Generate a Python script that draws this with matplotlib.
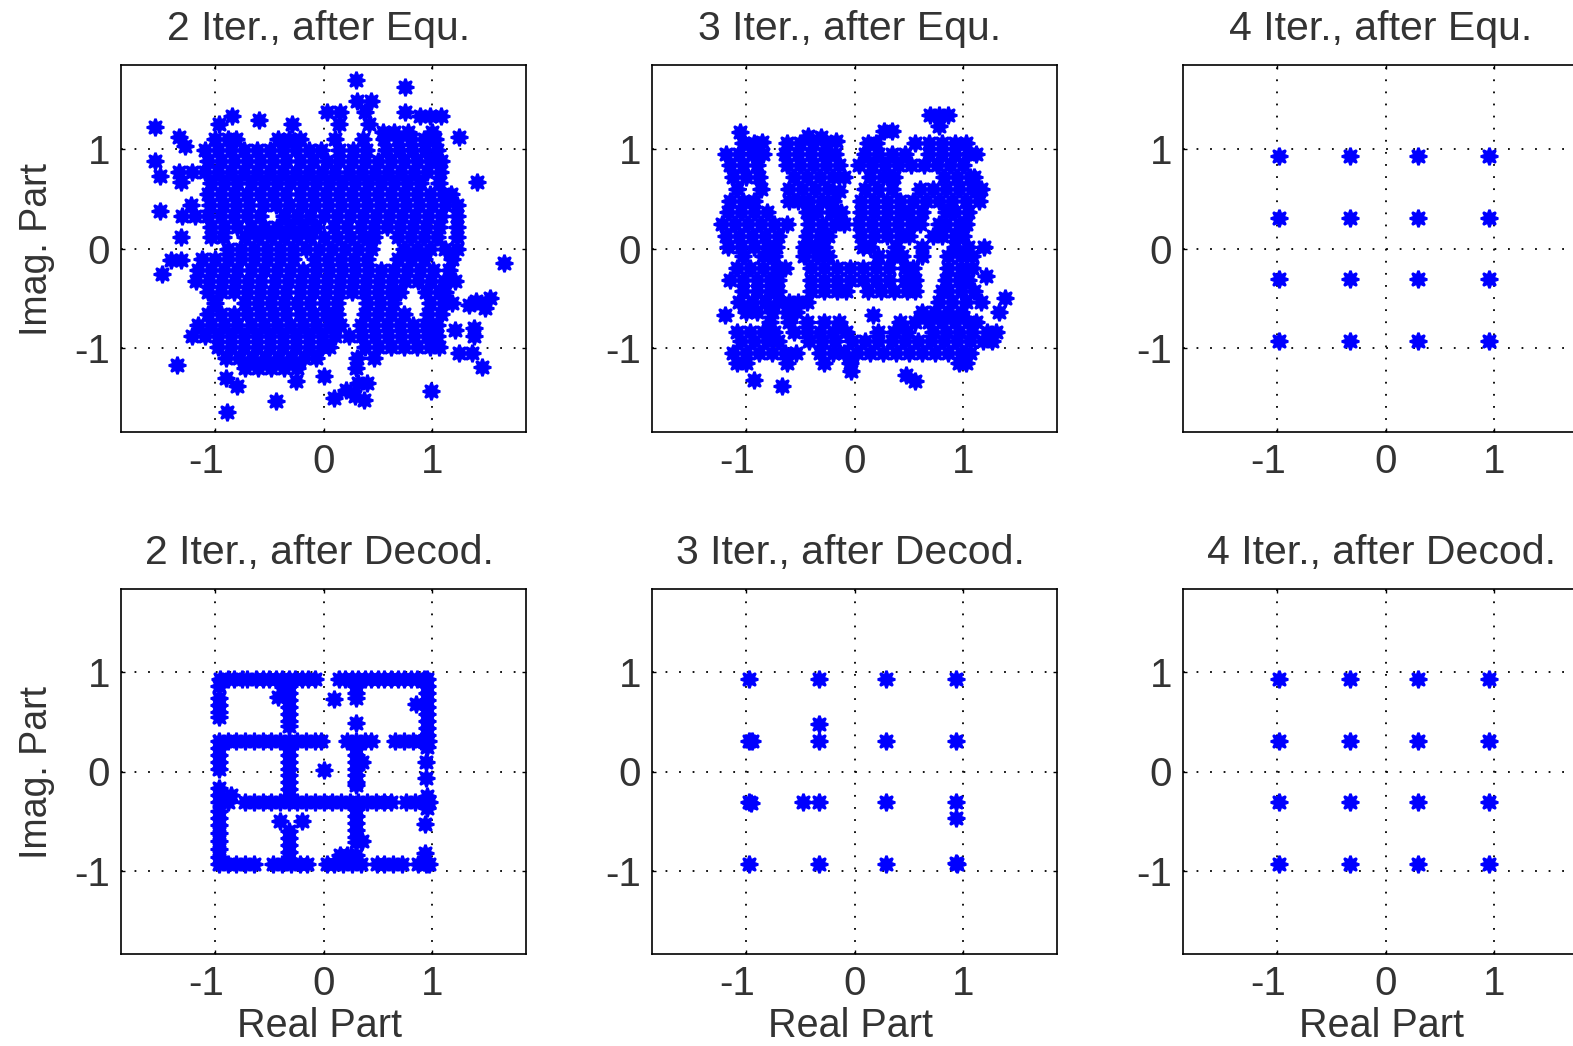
"""Scatter plots of equalized and decoded symbols over the turbo iterations."""

import matplotlib

matplotlib.use("Agg")

import matplotlib.pyplot as plt
from matplotlib.transforms import ScaledTranslation

plt.rcParams["font.family"] = ["Liberation Sans", "DejaVu Sans"]

W, H = 1573, 1046
LEFTS = [121, 652, 1183]
TOPS = [65, 589]
AX_W = 405
AX_HS = [367, 365]
TEXT_COLOR = "#333333"

TITLES = [
    "2 Iter., after Equ.", "3 Iter., after Equ.", "4 Iter., after Equ.",
    "2 Iter., after Decod.", "3 Iter., after Decod.", "4 Iter., after Decod.",
]
TICKS = [-1, 0, 1]
TICK_LABELS = ["-1", "0", "1"]

# every row is (imag, [real values])
EQU_2 = [
    (1.69, [0.30]), (1.62, [0.75]),
    (1.48, [0.31, 0.44]), (1.37, [0.03, 0.15, 0.38, 0.75]),
    (1.33, [-0.84, 0.89, 0.98, 1.08]), (1.29, [-0.59]), (1.25, [-0.96, -0.29, 0.14, 0.42]),
    (1.22, [-1.55]), (1.17, [0.55, 0.65, 0.78, 1.00]), (1.12, [-1.33, 1.24]), (1.03, [-1.27]), (0.88, [-1.55]),
    (1.10, [-1.00, -0.88, -0.80, -0.42, -0.32, -0.22, 0.11, 0.36, 0.56, 0.68, 0.80, 0.92, 1.02]),
    (0.99, [-1.09, -0.97, -0.85, -0.73, -0.61, -0.49, -0.37, -0.25, -0.13, -0.02, 0.14, 0.27, 0.39, 0.57, 0.69, 0.81, 0.93, 1.04]),
    (0.88, [-1.06, -0.94, -0.82, -0.70, -0.58, -0.46, -0.34, -0.22, -0.10, 0.03, 0.14, 0.26, 0.38, 0.50, 0.62, 0.74, 0.86, 0.98, 1.08]),
    (0.77, [-1.33, -1.21, -1.09, -0.97, -0.85, -0.73, -0.61, -0.49, -0.37, -0.25, -0.13, -0.01, 0.11, 0.23, 0.35, 0.47, 0.59, 0.71, 0.83, 0.95, 1.07]),
    (0.73, [-1.50]), (0.67, [-1.31, 1.41]),
    (0.66, [-1.03, -0.91, -0.79, -0.67, -0.55, -0.43, -0.31, -0.19, -0.07, 0.05, 0.17, 0.29, 0.41, 0.53, 0.65, 0.77, 0.89, 1.06]),
    (0.55, [-1.06, -0.94, -0.82, -0.70, -0.58, -0.46, -0.34, -0.22, -0.10, 0.02, 0.14, 0.26, 0.38, 0.50, 0.62, 0.74, 0.86, 0.98, 1.10, 1.17]),
    (0.44, [-1.22, -1.04, -0.92, -0.80, -0.68, -0.56, -0.44, -0.32, -0.20, -0.08, 0.04, 0.16, 0.28, 0.40, 0.52, 0.64, 0.76, 0.88, 1.00, 1.12, 1.23]),
    (0.38, [-1.50]),
    (0.33, [-1.30, -1.18, -1.06, -0.94, -0.82, -0.70, -0.58, -0.36, -0.24, -0.12, 0.00, 0.12, 0.24, 0.36, 0.48, 0.60, 0.72, 0.84, 0.96, 1.08, 1.23]),
    (0.22, [-1.03, -0.91, -0.79, -0.67, -0.55, -0.43, -0.31, -0.19, -0.07, 0.10, 0.22, 0.34, 0.46, 0.58, 0.70, 0.82, 0.94, 1.06, 1.23]),
    (0.12, [-1.31, -1.03, -0.92, -0.72, -0.60, -0.48, -0.36, -0.24, -0.12, 0.00, 0.12, 0.24, 0.36, 0.46, 0.68, 0.80, 0.92, 1.04, 1.23]),
    (0.00, [-0.88, -0.76, -0.64, -0.52, -0.40, -0.28, -0.16, -0.04, 0.08, 0.20, 0.32, 0.44, 0.74, 0.86, 0.98, 1.12, 1.23]),
    (-0.11, [-1.12, -1.00, -0.88, -0.76, -0.64, -0.52, -0.40, -0.28, -0.08, 0.04, 0.16, 0.28, 0.40, 0.68, 0.80, 0.92, 1.18]),
    (-0.12, [-1.40, -1.31]), (-0.15, [1.66]), (-0.26, [-1.48]),
    (-0.22, [-1.15, -1.03, -0.91, -0.79, -0.67, -0.55, -0.43, -0.31, -0.19, -0.07, 0.05, 0.17, 0.29, 0.41, 0.53, 0.65, 0.77, 0.89, 1.01, 1.15]),
    (-0.33, [-1.17, -1.05, -0.93, -0.81, -0.69, -0.57, -0.45, -0.33, -0.21, -0.09, 0.03, 0.15, 0.27, 0.39, 0.51, 0.63, 0.75, 0.87, 0.99, 1.11, 1.21]),
    (-0.44, [-1.06, -0.94, -0.82, -0.70, -0.58, -0.46, -0.34, -0.22, -0.10, 0.02, 0.14, 0.26, 0.38, 0.50, 0.62, 0.70, 0.94, 1.06, 1.12]),
    (-0.50, [1.53]), (-0.53, [1.40]), (-0.57, [1.34]), (-0.60, [1.48]),
    (-0.55, [-1.00, -0.72, -0.60, -0.48, -0.36, -0.24, -0.12, 0.00, 0.12, 0.40, 0.52, 0.64, 0.98, 1.10, 1.18]),
    (-0.66, [-1.06, -0.94, -0.82, -0.70, -0.58, -0.46, -0.34, -0.22, -0.10, 0.02, 0.12, 0.38, 0.50, 0.62, 0.74, 0.96, 1.08]),
    (-0.77, [-1.15, -1.03, -0.91, -0.79, -0.67, -0.55, -0.43, -0.31, -0.19, -0.07, 0.05, 0.15, 0.34, 0.46, 0.58, 0.70, 0.82, 0.94, 1.04]),
    (-0.80, [1.38]), (-0.82, [1.21]),
    (-0.88, [-1.21, -1.09, -0.97, -0.85, -0.73, -0.61, -0.49, -0.37, -0.25, -0.13, -0.01, 0.11, 0.23, 0.35, 0.47, 0.59, 0.71, 0.83, 0.95, 1.04, 1.38]),
    (-0.99, [-0.97, -0.85, -0.73, -0.61, -0.49, -0.37, -0.25, -0.13, -0.01, 0.05, 0.38, 0.50, 0.62, 0.74, 0.86, 0.98, 1.06]),
    (-1.05, [1.24, 1.36]),
    (-1.10, [-0.90, -0.78, -0.66, -0.54, -0.42, -0.30, -0.18, -0.07, 0.31, 0.46]),
    (-1.17, [-1.35]), (-1.19, [1.46]),
    (-1.20, [-0.72, -0.60, -0.48, -0.36, -0.24, 0.30]),
    (-1.28, [0.00]), (-1.30, [-0.90]), (-1.33, [-0.25]), (-1.35, [0.32, 0.40]),
    (-1.38, [-0.79]), (-1.42, [0.21]), (-1.43, [0.99]), (-1.48, [0.29]),
    (-1.50, [0.10]), (-1.52, [0.37]), (-1.53, [-0.44]), (-1.64, [-0.89]),
]

EQU_3 = [
    (1.34, [0.69, 0.78, 0.86]), (1.23, [0.78]), (1.18, [0.27, 0.34]),
    (1.17, [-1.05]), (1.13, [-0.43]), (1.12, [-0.31]), (1.08, [-0.17]), (1.07, [-0.85]),
    (1.06, [-1.02, -0.92, -0.62, -0.50, -0.38, -0.26, 0.12, 0.20, 0.56, 0.68, 0.80, 0.92, 1.02]),
    (0.95, [-1.18, -1.06, -0.94, -0.84, -0.64, -0.52, -0.40, -0.28, -0.18, 0.10, 0.22, 0.34, 0.46, 0.68, 0.80, 0.92, 1.04, 1.12]),
    (0.84, [-1.14, -1.02, -0.90, -0.62, -0.50, -0.38, -0.26, -0.14, 0.04, 0.16, 0.28, 0.40, 0.52, 0.64, 0.76, 0.88, 1.00]),
    (0.72, [-1.12, -1.00, -0.88, -0.56, -0.44, -0.32, -0.20, -0.10, 0.14, 0.26, 0.36, 0.82, 0.94, 1.06, 1.10]),
    (0.60, [-1.08, -0.86, -0.60, -0.48, -0.36, -0.24, 0.10, 0.22, 0.34, 0.60, 0.72, 0.84, 0.96, 1.08, 1.16]),
    (0.58, [-0.14]),
    (0.48, [-1.14, -1.02, -0.92, -0.60, -0.52, -0.42, -0.30, -0.20, 0.06, 0.18, 0.30, 0.42, 0.54, 0.66, 0.78, 0.90, 1.02, 1.14]),
    (0.37, [-1.16, -1.04, -0.92, -0.80, -0.44, -0.34, -0.22, -0.12, 0.06, 0.18, 0.30, 0.42, 0.50, 0.62, 0.84, 0.92, 1.04]),
    (0.25, [-1.22, -1.10, -0.98, -0.86, -0.74, -0.62, -0.42, -0.30, -0.18, -0.10, 0.04, 0.16, 0.28, 0.40, 0.52, 0.60, 0.78, 0.84, 0.96, 1.02]),
    (0.13, [-1.18, -1.06, -0.94, -0.82, -0.70, -0.44, -0.32, -0.24, 0.06, 0.18, 0.30, 0.42, 0.50, 0.72, 0.80, 0.92, 1.00]),
    (0.02, [-1.16, -1.04, -0.92, -0.80, -0.72, -0.46, -0.36, -0.28, 0.08, 0.14, 0.38, 0.62, 0.92, 1.04, 1.19]),
    (-0.08, [-1.02, -0.84, -0.74, -0.46, -0.34, -0.24, 0.22, 0.34, 0.44, 0.62, 0.86, 0.98, 1.08]),
    (-0.20, [-1.08, -0.96, -0.84, -0.72, -0.64, -0.40, -0.28, -0.16, -0.04, 0.08, 0.20, 0.32, 0.46, 0.54, 0.86, 0.98, 1.08]),
    (-0.28, [1.21]),
    (-0.32, [-1.14, -1.02, -0.90, -0.78, -0.70, -0.40, -0.28, -0.16, -0.04, 0.08, 0.20, 0.32, 0.46, 0.56, 0.84, 0.96, 1.04]),
    (-0.43, [-1.02, -0.90, -0.78, -0.70, -0.40, -0.28, -0.16, -0.08, 0.12, 0.24, 0.36, 0.48, 0.56, 0.80, 0.86, 0.98, 1.10]),
    (-0.50, [1.38]),
    (-0.54, [-1.06, -0.94, -0.82, -0.70, -0.60, -0.52, -0.44, 0.78, 0.90, 1.02, 1.16]),
    (-0.64, [-1.00, -0.90, -0.76, -0.62, -0.54, 0.62, 0.74, 0.86, 0.98, 1.33]),
    (-0.67, [-1.19, 0.17]),
    (-0.74, [-0.78, -0.60, -0.44, -0.28, -0.14, 0.42, 0.56, 0.68, 0.80, 0.92, 1.04, 1.12]),
    (-0.84, [-1.08, -0.96, -0.84, -0.74, -0.56, -0.44, -0.32, -0.20, -0.08, 0.22, 0.36, 0.48, 0.72, 0.84, 0.96, 1.08, 1.22, 1.30]),
    (-0.93, [-1.04, -0.92, -0.80, -0.70, -0.42, -0.30, -0.18, -0.02, 0.10, 0.22, 0.34, 0.46, 0.58, 0.70, 0.82, 0.94, 1.06, 1.18, 1.26]),
    (-1.05, [-1.12, -1.00, -0.88, -0.76, -0.64, -0.54, -0.32, -0.20, -0.10, 0.02, 0.14, 0.26, 0.38, 0.50, 0.62, 0.74, 0.86, 0.98, 1.06]),
    (-1.15, [-1.08, -1.00, -0.62, -0.28, -0.04, 0.96, 1.02]),
    (-1.23, [-0.03]), (-1.27, [0.47]), (-1.32, [-0.92]), (-1.33, [0.56]), (-1.38, [-0.67]),
]

DEC_2_ROWS = [
    (0.93, [-0.95, -0.88, -0.82, -0.75, -0.70, -0.62, -0.56, -0.50, -0.44, -0.38, -0.32, -0.26, -0.20, -0.14, -0.08,
            0.14, 0.20, 0.26, 0.32, 0.38, 0.44, 0.50, 0.56, 0.62, 0.68, 0.74, 0.80, 0.86, 0.92, 0.95]),
    (0.31, [-0.96, -0.88, -0.80, -0.72, -0.64, -0.56, -0.48, -0.40, -0.32, -0.24, -0.16, -0.08, -0.02,
            0.22, 0.30, 0.38, 0.44, 0.66, 0.74, 0.82, 0.90, 0.96]),
    (-0.31, [-0.96, -0.88, -0.72, -0.64, -0.56, -0.48, -0.40, -0.32, -0.24, -0.16, -0.08, 0.00, 0.08, 0.16, 0.24, 0.32,
             0.40, 0.48, 0.56, 0.62, 0.76, 0.84, 0.92, 0.97]),
    (-0.93, [-0.96, -0.88, -0.80, -0.72, -0.64, -0.46, -0.38, -0.30, -0.22, -0.15, 0.03, 0.10, 0.18, 0.26, 0.34,
             0.49, 0.56, 0.64, 0.72, 0.87, 0.94, 0.97]),
    (0.73, [0.10]), (0.49, [0.30]), (0.02, [0.00]), (-0.50, [-0.40, -0.20]),
    (-0.84, [0.15, 0.22, 0.30]), (0.68, [0.85]), (0.75, [-0.42]),
    (0.10, [0.35, 0.94]), (-0.07, [0.94]), (-0.70, [0.35]), (-0.53, [0.93]), (-0.82, [0.93]),
    (-0.24, [-0.85]),
]
DEC_2_COLS = [
    (-0.96, [0.86, 0.74, 0.67, 0.60, 0.55, 0.24, 0.17, 0.10, 0.03, -0.17, -0.24, -0.40, -0.47, -0.54, -0.62, -0.70, -0.78, -0.86]),
    (-0.32, [0.86, 0.79, 0.72, 0.65, 0.58, 0.51, 0.46, 0.24, 0.17, 0.10, 0.03, -0.04, -0.11, -0.18, -0.25,
             -0.60, -0.67, -0.74, -0.81, -0.88]),
    (-0.37, [0.85, 0.78]),
    (0.30, [0.86, 0.79, 0.74, 0.24, 0.17, 0.10, 0.03, -0.04, -0.11, -0.14, -0.38, -0.45, -0.52, -0.59, -0.66, -0.71]),
    (0.95, [0.86, 0.79, 0.72, 0.65, 0.58, 0.51, 0.44, 0.37, 0.25, -0.25, -0.37]),
]

DEC_3_RE = [-0.97, -0.33, 0.29, 0.935, -0.97, -0.94, -0.33, -0.33, 0.29, 0.935,
            -0.97, -0.95, -0.47, -0.33, 0.29, 0.935, 0.935, -0.97, -0.33, 0.29, 0.93, 0.94]
DEC_3_IM = [0.93, 0.93, 0.93, 0.93, 0.31, 0.31, 0.31, 0.48, 0.31, 0.31,
            -0.31, -0.32, -0.31, -0.31, -0.31, -0.31, -0.47, -0.93, -0.93, -0.93, -0.92, -0.93]

EQU_4_RE = [-0.98, -0.33, 0.30, 0.95] * 4
EQU_4_IM = [0.93] * 4 + [0.31] * 4 + [-0.31] * 4 + [-0.93] * 4
DEC_4_RE = [-0.98, -0.33, 0.30, 0.95] * 4
DEC_4_IM = [0.93] * 4 + [0.31] * 4 + [-0.31] * 4 + [-0.93] * 4


def from_rows(rows):
    re, im = [], []
    for y, xs in rows:
        re += xs
        im += [y] * len(xs)
    return re, im


def from_cols(cols):
    re, im = [], []
    for x, ys in cols:
        re += [x] * len(ys)
        im += ys
    return re, im


def main():
    dec2_re, dec2_im = from_rows(DEC_2_ROWS)
    col_re, col_im = from_cols(DEC_2_COLS)
    panels = [
        from_rows(EQU_2),
        from_rows(EQU_3),
        (EQU_4_RE, EQU_4_IM),
        (dec2_re + col_re, dec2_im + col_im),
        (DEC_3_RE, DEC_3_IM),
        (DEC_4_RE, DEC_4_IM),
    ]

    fig = plt.figure(figsize=(W / 100, H / 100), dpi=100)
    for i, (re, im) in enumerate(panels):
        row, col = divmod(i, 3)
        ax = fig.add_axes([LEFTS[col] / W, 1 - (TOPS[row] + AX_HS[row]) / H, AX_W / W, AX_HS[row] / H])
        ax.plot(re, im, linestyle="none", marker=(8, 1, 0), color="#0000ff", markersize=12.5, markeredgewidth=1.8)
        ax.set_xlim(-1.86, 1.86)
        ax.set_ylim(-1.84, 1.84)
        ax.set_xticks(TICKS, TICK_LABELS)
        ax.set_yticks(TICKS, TICK_LABELS)
        ax.set_axisbelow(True)
        ax.xaxis.grid(True, color="black", linewidth=1.3, linestyle=(0, (1, 5.7)))
        ax.yaxis.grid(True, color="black", linewidth=1.3, linestyle=(0, (1, 6.5)))
        ax.tick_params(direction="in", length=3, width=1.0, top=True, right=True, labelsize=29,
                       labelcolor=TEXT_COLOR, pad=8)
        for spine in ax.spines.values():
            spine.set_linewidth(1.2)
        # the minus sign pushes the -1 label left of its tick
        shift = ScaledTranslation(-8 / 100, 0, fig.dpi_scale_trans)
        lab = ax.get_xticklabels()[0]
        lab.set_transform(lab.get_transform() + shift)
        ax.set_title(TITLES[i], fontsize=29.5, color=TEXT_COLOR, x=0.489, pad=18)
        if row == 1:
            ax.set_xlabel("Real Part", fontsize=28.5, color=TEXT_COLOR, labelpad=3, x=0.489)
        if col == 0:
            ax.set_ylabel("Imag. Part", fontsize=27, color=TEXT_COLOR, labelpad=14, y=0.497)

    fig.savefig("out.png", dpi=100)


if __name__ == "__main__":
    main()
